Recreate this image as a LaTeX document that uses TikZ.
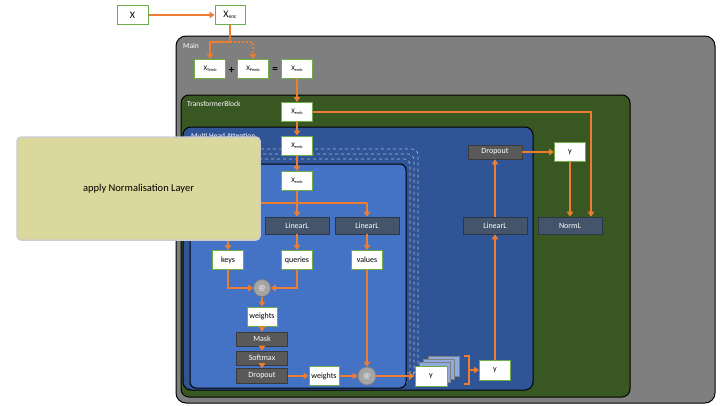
\documentclass[tikz,border=0pt]{standalone}
\usepackage{fontspec}
\setmainfont{Carlito}
\usetikzlibrary{arrows.meta,calc}
\definecolor{orng}{HTML}{ED7D31}
\definecolor{maingray}{HTML}{7F7F7F}
\definecolor{tbgreen}{HTML}{385723}
\definecolor{mhablue}{HTML}{2F5597}
\definecolor{headblue}{HTML}{4472C4}
\definecolor{slate}{HTML}{44546A}
\definecolor{slateedge}{HTML}{2B3646}
\definecolor{dgray}{HTML}{595959}
\definecolor{dgrayedge}{HTML}{3A3A3A}
\definecolor{bgreen}{HTML}{70AD47}
\definecolor{tan}{HTML}{DAD89C}
\definecolor{stackblue}{HTML}{8FAADC}
\definecolor{atgray}{HTML}{A5A5A5}
\newcommand{\xsb}[1]{{\fontsize{7}{8}\selectfont X}\raisebox{-1pt}{\fontsize{4.2}{5}\selectfont #1}}
\begin{document}
\begin{tikzpicture}[x=1pt,y=-1pt,
  wbox/.style={draw=bgreen,fill=white,line width=1pt,minimum width=31pt,minimum height=19pt,inner sep=0pt,font=\fontsize{8}{9}\selectfont},
  dbox/.style={draw=slateedge,fill=slate,line width=0.6pt,minimum width=64pt,minimum height=17pt,inner sep=0pt,text=white,font=\fontsize{8}{9}\selectfont},
  gbox/.style={draw=dgrayedge,fill=dgray,line width=0.6pt,minimum width=51pt,minimum height=14pt,inner sep=0pt,text=white,font=\fontsize{8}{9}\selectfont},
  atnode/.style={circle,draw=maingray,fill=atgray,line width=0.7pt,minimum size=17pt,inner sep=0pt,text=white,font=\fontsize{8}{9}\selectfont},
  arr/.style={draw=orng,line width=2pt,-{Triangle[length=5pt,width=6.5pt]}},
  ln/.style={draw=orng,line width=2pt},
  region/.style={draw=black,line width=1pt},
  lbl/.style={anchor=west,text=white,inner sep=0pt,font=\fontsize{7.5}{8}\selectfont},
  frame/.style={draw=gray!55,dashed,line width=0.6pt,rounded corners=6pt},
  stk/.style={draw=gray,fill=stackblue,line width=0.7pt}
]
\useasboundingbox (0,0) rectangle (720,405);
% regions
\draw[region,fill=maingray,rounded corners=10pt] (176,36) rectangle (715,403);
\node[lbl] (mainlbl) at (183,45.5) {Main};
\draw[region,fill=tbgreen,rounded corners=8pt] (181,95) rectangle (630,397);
\node[lbl] (tblbl) at (187,103.5) {TransformerBlock};
\draw[region,fill=mhablue,rounded corners=8pt] (183,127) rectangle (533,390);
\node[lbl] (mhalbl) at (191,136) {Multi Head Attention};
\draw[frame] (202,149) rectangle (418,373);
\draw[frame] (198,154) rectangle (414,378);
\draw[frame] (194,159) rectangle (410,383);
\draw[region,fill=headblue,rounded corners=6pt] (190,164) rectangle (406,388);

% nodes
\node[wbox,font=\fontsize{10}{11}\selectfont] (x) at (132.5,15) {X};
\node[wbox,minimum width=30pt] (xenc) at (230,15) {{\fontsize{10}{11}\selectfont X}\raisebox{-1.2pt}{\fontsize{5.5}{6}\selectfont enc}};
\node[wbox] (xt) at (210,69) {\xsb{Temb}};
\node[inner sep=0pt,font=\fontsize{11}{12}\selectfont\bfseries] (plus) at (231.5,70) {+};
\node[wbox] (xp) at (253,69) {\xsb{Pemb}};
\node[inner sep=0pt,font=\fontsize{11}{12}\selectfont\bfseries] (eq) at (275,70) {=};
\node[wbox] (xe) at (297,69) {\xsb{emb}};
\node[wbox] (xe2) at (297,112) {\xsb{emb}};
\node[wbox] (xe3) at (297,145.5) {\xsb{emb}};
\node[wbox] (xe4) at (297,181) {\xsb{emb}};
\node[dbox] (linq) at (297,225.5) {LinearL};
\node[dbox] (linv) at (367,225.5) {LinearL};
\node[wbox] (keys) at (228,260) {keys};
\node[wbox] (queries) at (297,260) {queries};
\node[wbox] (values) at (367,260) {values};
\node[atnode] (at1) at (262,288) {@};
\node[wbox,minimum width=30pt] (w1) at (262,316.5) {weights};
\node[gbox] (mask) at (262,339) {Mask};
\node[gbox] (soft) at (262,358) {Softmax};
\node[gbox,minimum height=15pt] (drop1) at (262,376) {Dropout};
\node[wbox,minimum width=30pt] (w2) at (324,376) {weights};
\node[atnode,minimum size=18pt] (at2) at (367,376) {@};
\draw[stk] (428,356) rectangle (459,376);
\draw[stk] (423.7,359.3) rectangle (454.7,379.3);
\draw[stk] (419.3,362.6) rectangle (450.3,382.6);
\node[wbox,minimum width=32pt,minimum height=20pt] (y1) at (431,376) {y};
\node[wbox,minimum height=20pt] (y2) at (495,370) {y};
\node[dbox] (lin3) at (495,225.5) {LinearL};
\node[gbox,minimum width=54pt] (drop3) at (495,152) {Dropout};
\node[wbox,minimum height=19pt] (y3) at (570,152) {y};
\node[dbox] (norm) at (570,225.5) {NormL};

% connectors
\draw[arr] (x) -- (xenc);
\coordinate (c1) at (230,42);
\draw[ln] (xenc.south) -- (c1);
\draw[arr] (c1) -| (xt.north);
\draw[orng,line width=2pt,dotted,-{Triangle[length=5pt,width=6.5pt]}] (c1) -| (xp.north);
\draw[arr] (xe) -- (xe2);
\coordinate (c2) at (591,112);
\draw[arr] (xe2.east) -- (c2) -- (c2 |- norm.north);
\draw[arr] (xe2) -- (xe3);
\draw[arr] (xe3) -- (xe4);
\coordinate (c3) at (297,203);
\draw[ln] (xe4.south) -- (c3);
\draw[ln] (228,203) -- (367,203);
\draw[arr] (c3) -- (linq.north);
\draw[arr] (367,203) -- (linv.north);
\draw[arr] (228,203) -- (keys.north);
\draw[arr] (linq) -- (queries);
\draw[arr] (linv) -- (values);
\draw[arr] (keys.south) |- (at1.west);
\draw[arr] (queries.south) |- (at1.east);
\draw[arr] (at1) -- (w1);
\draw[arr] (w1) -- (mask);
\draw[arr] (mask) -- (soft);
\draw[arr] (soft) -- (drop1);
\draw[arr] (drop1) -- (w2);
\draw[arr] (w2) -- (at2);
\draw[arr] (values.south) -- (at2.north);
\draw[arr] (at2) -- (y1);
\coordinate (b1) at (464,356);
\coordinate (b2) at (469,356);
\coordinate (b3) at (469,384);
\coordinate (b4) at (464,384);
\draw[orng,line width=1.2pt] (b1) -- (b2) -- (b3) -- (b4);
\draw[arr] (469,370) -- (y2.west);
\draw[arr] (y2) -- (lin3);
\draw[arr] (lin3) -- (drop3);
\draw[arr] (drop3) -- (y3);
\draw[arr] (y3.south) -- (y3.south |- norm.north);

% note
\node[draw={rgb,255:red,205;green,205;blue,205},line width=1.5pt,fill=tan,rounded corners=4pt,minimum width=243pt,minimum height=103pt,font=\fontsize{10.5}{12}\selectfont] (note) at (138.5,188.5) {apply Normalisation Layer};
\end{tikzpicture}
\end{document}
